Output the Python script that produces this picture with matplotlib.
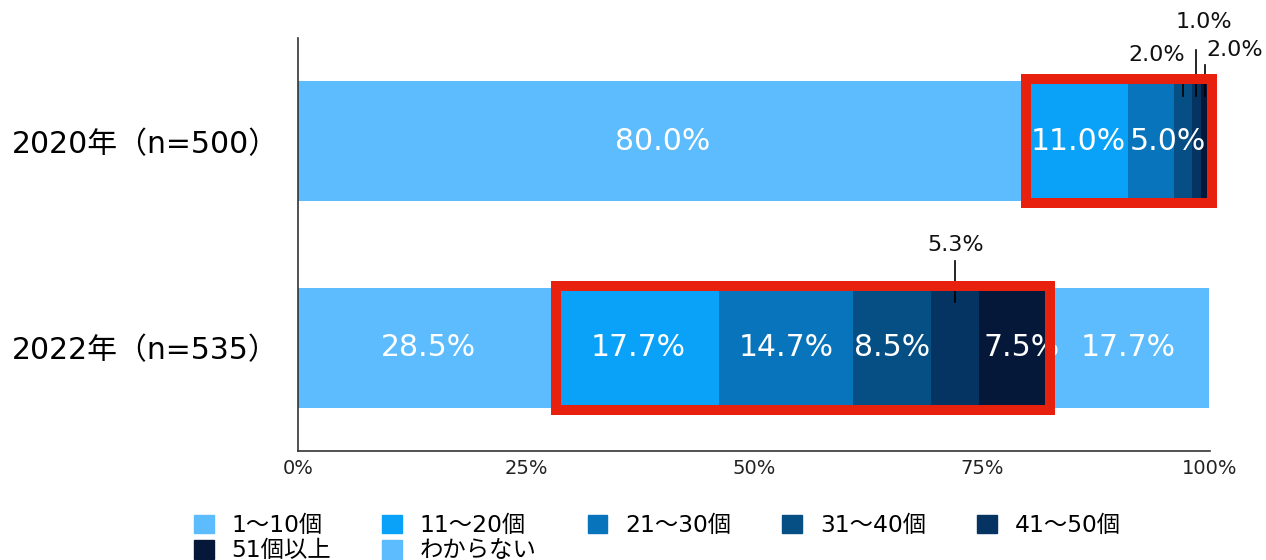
import matplotlib.pyplot as plt
from matplotlib.patches import Rectangle, Patch

plt.rcParams['font.family'] = ['DejaVu Sans', 'Noto Sans CJK JP']

# data
years = ['2020年（n=500）', '2022年（n=535）']
categories = ['1～10個', '11～20個', '21～30個', '31～40個', '41～50個', '51個以上', 'わからない']
vals_2020 = [80.0, 11.0, 5.0, 2.0, 1.0, 2.0, 0.0]
vals_2022 = [28.5, 17.7, 14.7, 8.5, 5.3, 7.5, 17.7]
colors = ['#5cbcfd', '#0aa2f8', '#0874bb', '#064f85', '#053463', '#06183a', '#5cbcfd']

rows = [vals_2022, vals_2020]   # y=0 -> 2022, y=1 -> 2020
ypos = [0, 1]
bar_h = 0.58

fig = plt.figure(figsize=(12.66, 5.6), dpi=100)
ax = fig.add_axes([0.2354, 0.1946, 0.7204, 0.7374])

# stacked bars
starts = []
for y, vals in zip(ypos, rows):
    left = 0
    st = []
    for v, c in zip(vals, colors):
        st.append(left)
        if v > 0:
            ax.barh(y, v, left=left, height=bar_h, color=c, edgecolor='none', zorder=2)
        left += v
    starts.append(st)

# white labels inside bars (which segments get one)
inside = {0: [0, 1, 2, 3, 5, 6], 1: [0, 1, 2]}
for y in ypos:
    vals = rows[y]
    for i in inside[y]:
        x = starts[y][i] + vals[i] / 2
        ha = 'center'
        if y == 1 and i == 2:
            x = starts[y][i] + 0.2
            ha = 'left'
        if y == 0 and i == 5:
            x += 0.9
        ax.text(x, y, f'{vals[i]:.1f}%', ha=ha, va='center', color='white',
                fontsize=21.5, zorder=3)

# outside labels with leader lines: (row, segment, label x, label y, line top)
outside = [(0, 4, None, 0.50, 0.42),
           (1, 3, 94.2, 1.42, 1.29),
           (1, 4, 99.3, 1.58, 1.44),
           (1, 5, 102.7, 1.44, 1.37)]
for y, i, tx, ty, top in outside:
    xc = starts[y][i] + rows[y][i] / 2
    if y == 1 and i == 5:
        xc = 99.4
    ax.plot([xc, xc], [y + bar_h / 2 - 0.07, top], color='black', lw=1.2,
            clip_on=False, zorder=4)
    ax.text(xc if tx is None else tx, ty, f'{rows[y][i]:.1f}%', ha='center',
            va='center', fontsize=16, color='#111111', clip_on=False)

# red highlight boxes
boxes = [(0, 1, 5), (1, 1, 5)]
for y, a, b in boxes:
    x0 = starts[y][a]
    x1 = starts[y][b] + rows[y][b]
    if y == 1:
        x1 = 100
    ax.add_patch(Rectangle((x0 - 0.2, y - 0.3), x1 - x0 + 0.4, 0.6, fill=False,
                           edgecolor='#e8200e', lw=7.2, zorder=5, clip_on=False))

ax.set_xlim(0, 100)
ax.set_ylim(-0.5, 1.5)
ax.set_yticks(ypos)
ax.set_yticklabels([years[1], years[0]], fontsize=21.5, color='black')
ax.set_xticks([0, 25, 50, 75, 100])
ax.set_xticklabels(['0%', '25%', '50%', '75%', '100%'], fontsize=14, color='#222222')
ax.tick_params(length=0)
ax.tick_params(axis='y', pad=14)
ax.tick_params(axis='x', pad=6)
for s in ['top', 'right']:
    ax.spines[s].set_visible(False)
for s in ['left', 'bottom']:
    ax.spines[s].set_color('#333333')
    ax.spines[s].set_linewidth(1.2)

# legend, filled row by row
order = [0, 5, 1, 6, 2, 3, 4]
handles = [Patch(color=colors[k], label=categories[k]) for k in order]
fig.legend(handles=handles, loc='upper left', bbox_to_anchor=(0.153, 0.082),
           ncol=5, frameon=False, fontsize=16.8, handlelength=0.85, handleheight=0.85,
           handletextpad=0.75, columnspacing=2.2, labelspacing=0.1,
           borderaxespad=0, borderpad=0)

fig.savefig('out.png', dpi=100, facecolor='white')
